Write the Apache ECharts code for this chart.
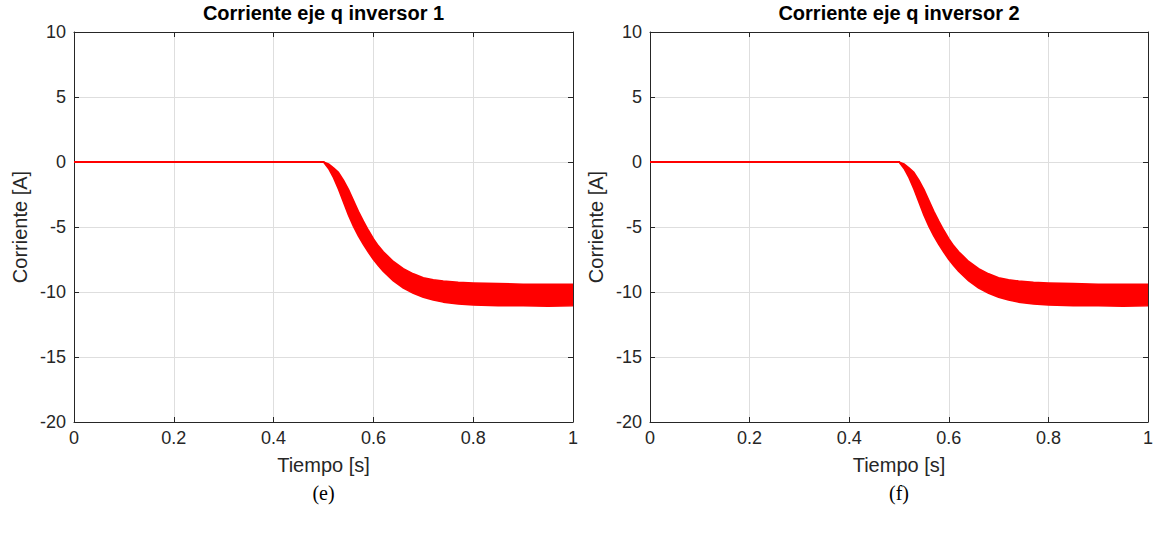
<!DOCTYPE html>
<html>
<head>
<meta charset="utf-8">
<script src="https://cdn.jsdelivr.net/npm/echarts@6/dist/echarts.min.js"></script>
<style>
  html, body { margin: 0; padding: 0; background: #ffffff; }
  #chart { width: 1158px; height: 533px; }
</style>
</head>
<body>
<div id="chart"></div>
<script>
// Axis ticks
const xTicks = [0, 0.2, 0.4, 0.6, 0.8, 1];
const yTicks = [-20, -15, -10, -5, 0, 5, 10];

// Panel titles and captions
const panelTitles = ['Corriente eje q inversor 1', 'Corriente eje q inversor 2'];
const panelCaptions = ['(e)', '(f)'];

// Current before the step (flat at zero)
const preStepTime = [0, 0.1, 0.2, 0.3, 0.4, 0.502];
const preStepInv1 = [0, 0, 0, 0, 0, 0];
const preStepInv2 = [0, 0, 0, 0, 0, 0];

// After the step the q-axis current carries a fast ripple: upper and lower envelope
const bandTime = [0.500, 0.51, 0.52, 0.53, 0.54, 0.55, 0.56, 0.57, 0.58, 0.59, 0.60, 0.61, 0.62,
                  0.64, 0.66, 0.68, 0.70, 0.72, 0.74, 0.77, 0.80, 0.85, 0.90, 0.95, 1.00];
const inv1Upper = [0, -0.15, -0.45, -0.8, -1.4, -2.1, -2.95, -3.8, -4.55, -5.25, -5.9, -6.45, -6.9,
                   -7.65, -8.2, -8.6, -8.9, -9.05, -9.15, -9.25, -9.3, -9.35, -9.4, -9.4, -9.4];
const inv1Lower = [0, -0.5, -1.2, -2.1, -3.1, -4.1, -4.95, -5.7, -6.35, -6.95, -7.5, -7.98, -8.42,
                   -9.15, -9.7, -10.1, -10.4, -10.62, -10.78, -10.92, -11.0, -11.05, -11.05, -11.1, -11.05];
const inv2Upper = [0, -0.15, -0.45, -0.8, -1.4, -2.1, -2.95, -3.8, -4.55, -5.25, -5.9, -6.45, -6.9,
                   -7.65, -8.2, -8.6, -8.9, -9.05, -9.15, -9.25, -9.3, -9.35, -9.4, -9.4, -9.4];
const inv2Lower = [0, -0.5, -1.2, -2.1, -3.1, -4.1, -4.95, -5.7, -6.35, -6.95, -7.5, -7.98, -8.42,
                   -9.15, -9.7, -10.1, -10.4, -10.62, -10.78, -10.92, -11.0, -11.05, -11.05, -11.1, -11.05];

const AXIS_COLOR = '#262626';
const GRID_COLOR = '#dedede';
const RED = '#ff0000';
const SANS = '"Liberation Sans", Arial, Helvetica, sans-serif';

const panels = [
  { left: 74, width: 499, pre: preStepInv1, upper: inv1Upper, lower: inv1Lower },
  { left: 650, width: 498, pre: preStepInv2, upper: inv2Upper, lower: inv2Lower }
];

const grids = [], xAxes = [], yAxes = [], series = [], graphics = [];

panels.forEach((p, i) => {
  grids.push({ left: p.left, width: p.width, top: 32, height: 390, containLabel: false });

  const tickStyle = { show: true, inside: true, length: 5, lineStyle: { color: AXIS_COLOR, width: 1 } };
  const lineStyle = { show: true, onZero: false, lineStyle: { color: AXIS_COLOR, width: 1 } };

  // bottom axis with labels and grid
  xAxes.push({
    type: 'value', gridIndex: i, position: 'bottom',
    min: xTicks[0], max: xTicks[xTicks.length - 1], interval: 0.2,
    name: 'Tiempo [s]', nameLocation: 'middle', nameGap: 33,
    nameTextStyle: { color: AXIS_COLOR, fontSize: 20, fontFamily: SANS },
    axisLine: lineStyle, axisTick: tickStyle,
    axisLabel: { color: AXIS_COLOR, fontSize: 18, fontFamily: SANS, margin: 7 },
    splitLine: { show: true, lineStyle: { color: GRID_COLOR, width: 1 } }
  });
  // top box edge
  xAxes.push({
    type: 'value', gridIndex: i, position: 'top',
    min: xTicks[0], max: xTicks[xTicks.length - 1], interval: 0.2,
    axisLine: lineStyle, axisTick: tickStyle,
    axisLabel: { show: false }, splitLine: { show: false }
  });
  // left axis with labels and grid
  yAxes.push({
    type: 'value', gridIndex: i, position: 'left',
    min: yTicks[0], max: yTicks[yTicks.length - 1], interval: 5,
    name: 'Corriente [A]', nameLocation: 'middle', nameGap: 44,
    nameTextStyle: { color: AXIS_COLOR, fontSize: 20, fontFamily: SANS },
    axisLine: lineStyle, axisTick: tickStyle,
    axisLabel: { color: AXIS_COLOR, fontSize: 18, fontFamily: SANS, margin: 8 },
    splitLine: { show: true, lineStyle: { color: GRID_COLOR, width: 1 } }
  });
  // right box edge
  yAxes.push({
    type: 'value', gridIndex: i, position: 'right',
    min: yTicks[0], max: yTicks[yTicks.length - 1], interval: 5,
    axisLine: lineStyle, axisTick: tickStyle,
    axisLabel: { show: false }, splitLine: { show: false }
  });

  const xi = i * 2, yi = i * 2;

  // flat current before the step
  series.push({
    type: 'line', xAxisIndex: xi, yAxisIndex: yi,
    data: preStepTime.map((t, k) => [t, p.pre[k]]),
    showSymbol: false, silent: true, animation: false,
    lineStyle: { color: RED, width: 2 }, z: 3
  });

  // ripple band between the envelopes
  const upper = p.upper, lower = p.lower;
  series.push({
    type: 'custom', xAxisIndex: xi, yAxisIndex: yi,
    data: [[bandTime[0], upper[0]]],
    silent: true, animation: false, clip: true, z: 3,
    renderItem: (params, api) => {
      const pts = [];
      for (let k = 0; k < bandTime.length; k++) pts.push(api.coord([bandTime[k], upper[k]]));
      for (let k = bandTime.length - 1; k >= 0; k--) pts.push(api.coord([bandTime[k], lower[k]]));
      return {
        type: 'polygon',
        shape: { points: pts },
        style: { fill: RED, stroke: RED, lineWidth: 1.5, lineJoin: 'round' }
      };
    }
  });

  const cx = p.left + p.width / 2;
  graphics.push({
    type: 'text', x: cx, y: 13,
    style: { text: panelTitles[i], align: 'center', verticalAlign: 'middle',
             font: 'bold 20px ' + SANS, fill: '#000000' }
  });
  graphics.push({
    type: 'text', x: cx, y: 493,
    style: { text: panelCaptions[i], align: 'center', verticalAlign: 'middle',
             font: '20px "Liberation Serif", "Times New Roman", serif', fill: '#000000' }
  });
});

const chart = echarts.init(document.getElementById('chart'), null, { renderer: 'svg' });
chart.setOption({
  animation: false,
  backgroundColor: '#ffffff',
  grid: grids,
  xAxis: xAxes,
  yAxis: yAxes,
  series: series,
  graphic: graphics
});
</script>
</body>
</html>
